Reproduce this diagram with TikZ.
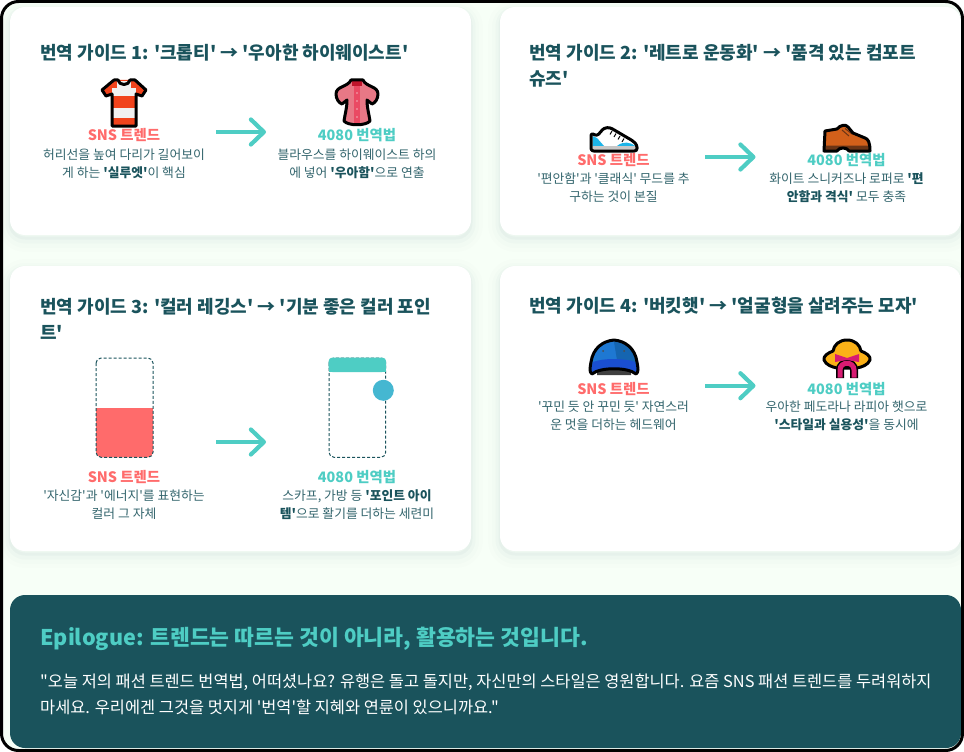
\documentclass[tikz,border=0pt]{standalone}
\usepackage{fontspec}
\usepackage{xcolor}
\newfontfamily\krfont{Noto Sans CJK KR}
\usetikzlibrary{arrows.meta}
\definecolor{deepteal}{HTML}{1A535C}
\definecolor{softteal}{HTML}{4ECDC4}
\definecolor{softred}{HTML}{FF6B6B}
\definecolor{softblue}{HTML}{45B7D1}
\definecolor{mintpage}{HTML}{F7FFF7}
\definecolor{desctone}{HTML}{33656D}
\definecolor{shirtred}{HTML}{F1431C}
\definecolor{shirtwhite}{HTML}{F1F1F1}
\definecolor{blousepink}{HTML}{E87886}
\definecolor{blousedark}{HTML}{EA4A63}
\definecolor{collarred}{HTML}{C0152C}
\definecolor{sneakerblue}{HTML}{1CB4E8}
\definecolor{shoebrown}{HTML}{D2601A}
\definecolor{soledark}{HTML}{6A3415}
\definecolor{capblue}{HTML}{1E78D2}
\definecolor{capshade}{HTML}{1565B0}
\definecolor{capbrim}{HTML}{1A4FD0}
\definecolor{hatyellow}{HTML}{FBB117}
\definecolor{ribbonpink}{HTML}{D81B72}
\tikzset{
  cardbox/.style={fill=white,rounded corners=15,minimum width=461,minimum height=#1,inner sep=0,
    preaction={draw=deepteal,line width=24,opacity=.009,transform canvas={yshift=-5pt}},
    preaction={draw=deepteal,line width=16,opacity=.012,transform canvas={yshift=-5pt}},
    preaction={draw=deepteal,line width=9,opacity=.018,transform canvas={yshift=-4pt}},
    preaction={draw=deepteal,line width=3,opacity=.03,transform canvas={yshift=-3pt}}},
  titlebox/.style={anchor=west,align=left,text=deepteal,font=\krfont\bfseries\fontsize{18}{26}\selectfont,inner sep=0},
  trendlabel/.style={text=softred,font=\krfont\bfseries\fontsize{14.4}{18}\selectfont,inner sep=0},
  guidelabel/.style={text=softteal,font=\krfont\bfseries\fontsize{14.4}{18}\selectfont,inner sep=0},
  descbox/.style={align=center,text=desctone,font=\krfont\fontsize{12.8}{18}\selectfont,inner sep=0},
  swaparrow/.style={draw=softteal,line width=4.2,-{Straight Barb[length=13pt,width=25pt,round]}},
  phonebox/.style={draw=deepteal,line width=1,dashed,dash pattern=on 3pt off 2pt,rounded corners=5},
  iconline/.style={draw=black,line width=3,line join=round,line cap=round}
}
\newcommand{\keyword}[1]{\textcolor{deepteal}{\textbf{#1}}}
\begin{document}
\begin{tikzpicture}[x=1pt,y=-1pt]
    \useasboundingbox (0,0) rectangle (964,752);
    \fill[mintpage,rounded corners=17] (1.5,1.5) rectangle (962.5,750.5);

    \node[cardbox=228] (cardA) at (240.5,121) {};
    \node[cardbox=228] (cardB) at (730.5,121) {};
    \node[cardbox=285] (cardC) at (240.5,408.5) {};
    \node[cardbox=285] (cardD) at (730.5,408.5) {};
    \node[fill=deepteal,rounded corners=15,minimum width=951,minimum height=153,inner sep=0] (cardE) at (485.5,671.5) {};

    \node[titlebox] (titleA) at (40,52.5) {번역 가이드 1: '크롭티' → '우아한 하이웨이스트'};
    \node[titlebox] (titleB) at (529,65.5) {번역 가이드 2: '레트로 운동화' → '품격 있는 컴포트\\슈즈'};
    \node[titlebox] (titleC) at (40,318.5) {번역 가이드 3: '컬러 레깅스' → '기분 좋은 컬러 포인\\트'};
    \node[titlebox] (titleD) at (529,305.5) {번역 가이드 4: '버킷햇' → '얼굴형을 살려주는 모자'};

    \fill[shirtred] (102,90) -- (114,80) -- (135,80) -- (146,90) -- (142,96) -- (136,94) -- (136,126) -- (112,126) -- (112,94) -- (106,96) -- cycle;
    \fill[shirtwhite] (112,88) rectangle (136,96);
    \fill[shirtwhite] (112,108) rectangle (136,118);
    \fill[shirtwhite] (117,81) rectangle (131,88);
    \draw[iconline] (114,80) -- (118,80) .. controls (119,86) and (129,86) .. (130,80) -- (135,80) -- (146,90) -- (142,96) -- (136,94) -- (136,126) -- (112,126) -- (112,94) -- (106,96) -- (102,90) -- cycle;

    \fill[blousepink] (351,80) -- (363,80) .. controls (366,87) and (378,86) .. (378,94) .. controls (378,99) and (375,103) .. (372,104) -- (367,100) .. controls (367,108) and (369,114) .. (370,121) .. controls (366,126) and (348,126) .. (344,121) .. controls (345,114) and (347,108) .. (347,100) -- (342,104) .. controls (339,103) and (336,99) .. (336,94) .. controls (336,86) and (348,87) .. cycle;
    \fill[collarred] (352,81) rectangle (362,86);
    \fill[blousedark] (354,86) rectangle (360,125);
    \fill[blousepink!60!white] (357,93) circle (.9);
    \fill[blousepink!60!white] (357,101) circle (.9);
    \fill[blousepink!60!white] (357,109) circle (.9);
    \fill[blousepink!60!white] (357,117) circle (.9);
    \draw[iconline] (351,80) -- (363,80) .. controls (366,87) and (378,86) .. (378,94) .. controls (378,99) and (375,103) .. (372,104) -- (367,100) .. controls (367,108) and (369,114) .. (370,121) .. controls (366,126) and (348,126) .. (344,121) .. controls (345,114) and (347,108) .. (347,100) -- (342,104) .. controls (339,103) and (336,99) .. (336,94) .. controls (336,86) and (348,87) .. cycle;

    \node[trendlabel] (trendA) at (124,135.5) {SNS 트렌드};
    \node[guidelabel] (guideA) at (357,135.5) {4080 번역법};
    \node[descbox] (descA) at (124,163.5) {허리선을 높여 다리가 길어보이\\게 하는 \keyword{'실루엣'}이 핵심};
    \node[descbox] (noteA) at (357,163.5) {블라우스를 하이웨이스트 하의\\에 넣어 \keyword{'우아함'}으로 연출};
    \coordinate (fromA) at (216,132);
    \coordinate (toA) at (266,132);
    \draw[swaparrow] (fromA) -- (toA);

    \fill[white,rounded corners=2] (591,133) -- (597,136) -- (605,127.5) -- (611,128) -- (633,141) -- (637,151) -- (591,151) -- cycle;
    \fill[sneakerblue] (592.5,136) -- (597,138) -- (604,146) -- (592.5,146) -- cycle;
    \fill[sneakerblue] (617,146) .. controls (623,141) and (630,142) .. (635.5,146) -- cycle;
    \fill[black!22] (592.5,146) rectangle (635.5,150.5);
    \draw[black,line width=1] (612,131) -- (610,134.5) (616,133.5) -- (614,137) (620,136) -- (618,139.5) (624,138.5) -- (622,142);
    \draw[iconline,rounded corners=2.5] (591,133) -- (597,136) -- (604,128) -- (610,127.5) -- (633,141) -- (637,145) -- (637,151) -- (591,151) -- cycle;

    \fill[shoebrown] (825,131) -- (837,129) .. controls (840,125) and (846,124) .. (848,127) -- (853,133) -- (865,138) .. controls (868,139) and (870,142) .. (870,151) -- (849,151) .. controls (847,147) and (839,147) .. (837,151) -- (824,151) -- cycle;
    \fill[soledark] (825,145.5) -- (869,145.5) -- (869,150) -- (849,150) .. controls (847,146) and (839,146) .. (837,150) -- (825,150) -- cycle;
    \draw[soledark,line width=1] (842,130) -- (849,136) (845,128.5) -- (852,134);
    \draw[iconline] (825,131) -- (837,129) .. controls (840,125) and (846,124) .. (848,127) -- (853,133) -- (865,138) .. controls (868,139) and (870,142) .. (870,151) -- (849,151) .. controls (847,147) and (839,147) .. (837,151) -- (824,151) -- cycle;

    \node[trendlabel] (trendB) at (613.5,160.5) {SNS 트렌드};
    \node[guidelabel] (guideB) at (846.5,160.5) {4080 번역법};
    \node[descbox] (descB) at (613.5,188) {'편안함'과 '클래식' 무드를 추\\구하는 것이 본질};
    \node[descbox] (noteB) at (846.5,188) {화이트 스니커즈나 로퍼로 \keyword{'편}\\\keyword{안함과 격식'} 모두 충족};
    \coordinate (fromB) at (705,157);
    \coordinate (toB) at (755.5,157);
    \draw[swaparrow] (fromB) -- (toB);

    \fill[softred,rounded corners=5] (96,408) rectangle (153,457.3);
    \fill[softred] (96,408) rectangle (153,415);
    \draw[phonebox] (96,358) rectangle (153,457.3);
    \draw[phonebox] (329,358) rectangle (385.7,457.3);
    \fill[softteal,rounded corners=4] (328.5,357.5) rectangle (386.2,372);
    \fill[softteal] (328.5,365) rectangle (386.2,372);
    \fill[softblue] (383.3,390.3) circle (10.5);

    \node[trendlabel] (trendC) at (124,477.5) {SNS 트렌드};
    \node[guidelabel] (guideC) at (357,477.5) {4080 번역법};
    \node[descbox] (descC) at (124,505) {'자신감'과 '에너지'를 표현하는\\컬러 그 자체};
    \node[descbox] (noteC) at (357,505) {스카프, 가방 등 \keyword{'포인트 아이}\\\keyword{템'}으로 활기를 더하는 세련미};
    \coordinate (fromC) at (216,442);
    \coordinate (toC) at (266,442);
    \draw[swaparrow] (fromC) -- (toC);

    \fill[black!75] (597,372) .. controls (605,366) and (623,366) .. (631,372) -- (631,375) -- (597,375) -- cycle;
    \fill[capblue] (592,374) .. controls (589,372) and (590,368) .. (591,362) .. controls (593,348) and (603,341) .. (614,340) .. controls (625,341) and (635,348) .. (637,362) .. controls (638,368) and (639,372) .. (636,374) .. controls (628,367) and (600,367) .. cycle;
    \fill[capshade] (614,342) .. controls (625,342) and (634,349) .. (636,364) .. controls (628,361) and (620,360) .. (617,360) -- cycle;
    \fill[capbrim] (592,373) .. controls (591,368) and (592,365) .. (593,362) .. controls (603,358) and (625,358) .. (635,362) .. controls (636,365) and (637,368) .. (636,373) .. controls (628,366) and (600,366) .. cycle;
    \fill[black!70] (603,351) circle (1);
    \fill[black!70] (624,351) circle (1);
    \draw[iconline] (592,374) .. controls (589,372) and (590,368) .. (591,362) .. controls (593,348) and (603,341) .. (614,340) .. controls (625,341) and (635,348) .. (637,362) .. controls (638,368) and (639,372) .. (636,374) .. controls (628,367) and (600,367) .. cycle;

    \draw[iconline,fill=hatyellow] (847,340) .. controls (855,340) and (860,345) .. (861,351) .. controls (866,353) and (871,356) .. (870,360) .. controls (868,365) and (862,367) .. (857,368) -- (837,368) .. controls (832,367) and (826,365) .. (824,360) .. controls (823,356) and (828,353) .. (833,351) .. controls (834,345) and (839,340) .. cycle;
    \draw[black,line width=8] (840,378) -- (840,370) .. controls (840,361) and (854,361) .. (854,370) -- (854,378);
    \draw[ribbonpink,line width=5] (840,377.5) -- (840,370) .. controls (840,361) and (854,361) .. (854,370) -- (854,377.5);
    \fill[ribbonpink] (835,354) -- (847,358) -- (859,354) -- (859,362) -- (847,360) -- (835,362) -- cycle;

    \node[trendlabel] (trendD) at (613.5,389) {SNS 트렌드};
    \node[guidelabel] (guideD) at (846.5,389) {4080 번역법};
    \node[descbox] (descD) at (613.5,416) {'꾸민 듯 안 꾸민 듯' 자연스러\\운 멋을 더하는 헤드웨어};
    \node[descbox] (noteD) at (846.5,416) {우아한 페도라나 라피아 햇으로\\\keyword{'스타일과 실용성'}을 동시에};
    \coordinate (fromD) at (705,385.7);
    \coordinate (toD) at (755.5,385.7);
    \draw[swaparrow] (fromD) -- (toD);

    \node[anchor=west,text=softteal,font=\krfont\bfseries\fontsize{21.6}{26}\selectfont,inner sep=0] (epiTitle) at (40,639) {Epilogue: 트렌드는 따르는 것이 아니라, 활용하는 것입니다.};
    \node[anchor=west,align=left,text=white,font=\krfont\fontsize{16.4}{26}\selectfont,inner sep=0] (epiText) at (40,694) {"오늘 저의 패션 트렌드 번역법, 어떠셨나요? 유행은 돌고 돌지만, 자신만의 스타일은 영원합니다. 요즘 SNS 패션 트렌드를 두려워하지\\마세요. 우리에겐 그것을 멋지게 '번역'할 지혜와 연륜이 있으니까요."};

    \draw[black,line width=3,rounded corners=17] (1.5,1.5) rectangle (962.5,750.5);
\end{tikzpicture}
\end{document}
